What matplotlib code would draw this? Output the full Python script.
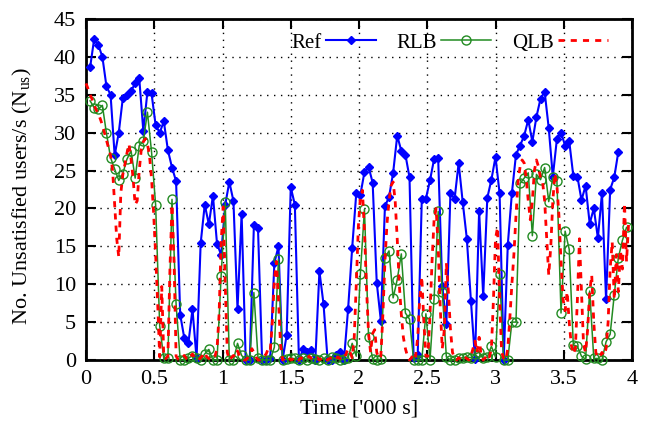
import numpy as np
import matplotlib
matplotlib.use('Agg')
import matplotlib.pyplot as plt

# Sample interval (thousand seconds)
dt_ref = 0.03
dt_qlb = 0.015

# Ref: users/s, one sample every 30 s, starting at 30 s
ref = [38.6, 42.4, 41.6, 40.0, 36.1, 35.0, 27.0, 30.0, 34.6, 35.0,
       35.5, 36.5, 37.2, 30.2, 35.4, 35.2, 31.0, 30.0, 31.5, 27.7,
       25.4, 23.6, 6.0, 2.9, 2.2, 6.7, 0.2, 15.4, 20.5, 17.9,
       21.7, 15.3, 13.9, 20.5, 23.5, 21.0, 6.7, 19.3, 0.0, 0.0,
       17.8, 17.4, 0.0, 0.0, 0.3, 12.8, 15.0, 0.0, 3.3, 22.8,
       20.5, 0.0, 1.4, 1.0, 1.3, 0.0, 11.7, 7.4, 0.0, 0.0,
       0.7, 1.0, 0.0, 6.7, 14.8, 22.0, 21.8, 24.8, 25.5, 23.4,
       10.2, 5.2, 20.3, 21.5, 24.7, 29.6, 27.6, 27.1, 24.1, 0.3,
       0.6, 21.2, 21.3, 23.7, 26.5, 26.6, 9.8, 4.7, 22.1, 21.2,
       26.0, 20.8, 16.0, 7.8, 0.1, 19.7, 8.4, 21.4, 23.8, 26.8,
       22.0, 0.0, 15.2, 22.0, 27.1, 28.3, 29.6, 31.7, 28.8, 32.1,
       34.5, 35.4, 30.6, 24.2, 29.2, 30.0, 28.3, 28.9, 24.3, 24.2,
       21.1, 23.0, 18.0, 20.0, 16.1, 22.0, 8.0, 22.5, 24.1, 27.5]

# RLB: same sampling as Ref
rlb = [34.2, 33.3, 33.1, 33.6, 29.9, 26.7, 25.2, 23.7, 24.6, 26.5,
       27.6, 24.0, 28.3, 28.9, 32.7, 27.5, 20.5, 4.5, 0.2, 0.3,
       21.2, 7.4, 0.0, 0.0, 0.3, 0.5, 0.3, 0.0, 0.8, 1.4,
       0.0, 0.0, 11.1, 20.8, 0.0, 0.0, 2.2, 0.6, 0.0, 0.0,
       8.9, 0.3, 0.0, 0.0, 0.0, 1.7, 13.3, 0.0, 0.1, 0.2,
       0.2, 0.0, 0.3, 0.0, 0.2, 0.1, 0.0, 0.2, 0.0, 0.4,
       0.2, 0.0, 0.1, 0.3, 2.2, 0.5, 11.4, 19.9, 3.1, 0.1,
       0.0, 0.1, 13.5, 14.4, 8.2, 10.6, 14.0, 6.2, 5.4, 0.0,
       0.0, 0.0, 6.1, 0.0, 8.1, 19.6, 9.0, 0.4, 0.0, 0.0,
       0.2, 0.3, 0.4, 0.3, 0.8, 1.0, 0.2, 0.4, 1.8, 0.4,
       11.4, 0.0, 0.0, 5.0, 5.0, 23.3, 24.0, 24.7, 16.4, 24.5,
       23.8, 25.4, 20.9, 24.1, 23.6, 6.2, 17.0, 14.6, 2.0, 1.8,
       0.5, 0.1, 9.1, 0.2, 0.2, 0.0, 2.4, 3.4, 8.6, 13.5,
       15.8, 17.5]

# QLB: one sample every 15 s, starting at 0
qlb = [36.5, 35.8, 35.0, 34.4, 33.6, 33.0, 32.5, 31.8, 31.0, 30.0,
       29.0, 28.0, 27.0, 25.0, 20.5, 16.0, 13.6, 22.0, 24.5, 25.8,
       27.3, 28.5, 26.5, 24.0, 20.5, 21.0, 25.0, 27.8, 28.8, 29.2,
       28.5, 27.0, 24.0, 19.5, 14.0, 7.5, 0.4, 9.7, 0.3, 0.2,
       0.5, 12.0, 20.5, 13.0, 0.5, 0.1, 0.0, 0.3, 0.6, 0.2,
       0.0, 0.4, 0.8, 0.3, 0.1, 0.0, 0.3, 0.6, 1.0, 0.4,
       0.2, 0.0, 0.2, 0.5, 1.5, 6.0, 15.5, 20.2, 10.0, 1.0,
       0.0, 0.3, 0.6, 0.4, 1.2, 0.5, 0.2, 0.0, 0.0, 0.3,
       0.8, 1.5, 1.0, 0.4, 0.0, 0.0, 0.2, 0.5, 0.8, 1.5,
       1.2, 5.0, 10.5, 13.0, 8.0, 2.0, 0.0, 0.2, 0.5, 0.3,
       0.0, 0.1, 0.4, 0.2, 0.0, 0.3, 0.1, 0.0, 0.2, 0.5,
       0.2, 0.0, 0.1, 0.3, 0.0, 0.2, 0.4, 0.1, 0.0, 0.2,
       0.3, 0.0, 0.1, 0.4, 0.2, 0.0, 0.3, 0.8, 1.5, 1.0,
       0.3, 3.0, 10.0, 17.5, 21.5, 22.4, 17.0, 9.5, 3.5, 1.0,
       3.5, 4.0, 1.0, 0.2, 0.5, 6.0, 13.0, 18.0, 21.0, 23.0,
       23.5, 21.0, 16.0, 10.0, 6.0, 3.0, 1.5, 0.5, 0.0, 0.3,
       1.0, 0.5, 3.0, 8.0, 11.0, 5.0, 0.5, 0.5, 6.0, 13.0,
       18.5, 20.0, 15.0, 7.0, 1.5, 4.0, 12.8, 9.0, 4.0, 1.0,
       0.2, 0.0, 0.3, 0.1, 0.0, 0.4, 0.2, 0.0, 0.5, 1.5,
       2.5, 1.0, 3.0, 0.5, 0.0, 0.3, 0.8, 0.4, 1.5, 8.0,
       16.0, 17.5, 8.0, 1.0, 0.2, 0.0, 1.5, 5.5, 10.0, 14.0,
       19.0, 23.5, 25.5, 26.4, 26.0, 24.0, 21.0, 18.5, 21.0, 25.0,
       26.4, 25.5, 24.0, 23.5, 21.0, 16.0, 11.2, 15.0, 21.0, 24.6,
       23.0, 19.0, 13.0, 8.0, 6.5, 9.0, 5.0, 2.0, 0.8, 1.5,
       8.0, 16.0, 9.0, 2.0, 1.0, 4.0, 9.0, 11.2, 5.0, 1.0,
       0.3, 0.5, 1.0, 0.6, 1.5, 5.0, 12.0, 15.6, 8.0, 13.9,
       9.0, 14.5, 12.0, 20.7, 13.0, 18.0]

t_ref = np.arange(1, len(ref) + 1) * dt_ref
t_rlb = np.arange(1, len(rlb) + 1) * dt_ref
t_qlb = np.arange(len(qlb)) * dt_qlb

plt.rcParams['font.family'] = 'Liberation Serif'
plt.rcParams['mathtext.fontset'] = 'custom'
plt.rcParams['mathtext.rm'] = 'Liberation Serif'
plt.rcParams['font.size'] = 16

fig = plt.figure(figsize=(6.52, 4.26), dpi=100)
ax = fig.add_axes([86 / 652, 1 - 360 / 426, 546 / 652, 341 / 426])

ax.plot(t_ref, ref, color='#0000ff', lw=1.5, marker='D', ms=4,
        label='Ref', clip_on=False, zorder=3)
ax.plot(t_rlb, rlb, color='#228b22', lw=1.1, marker='o', ms=6.5,
        mfc='none', mew=1.0, label='RLB', clip_on=False, zorder=4)
ax.plot(t_qlb, qlb, color='#ff0000', lw=2.0, dashes=(2.2, 2.2),
        label='QLB', clip_on=False, zorder=5)

ax.set_xlim(0, 4)
ax.set_ylim(0, 45)
ax.set_xticks(np.arange(0, 4.01, 0.5))
ax.set_xticklabels(['0', '0.5', '1', '1.5', '2', '2.5', '3', '3.5', '4'])
ax.set_yticks(np.arange(0, 46, 5))

ax.grid(True, color='black', linestyle=(0, (1, 4)), linewidth=1.0)
ax.set_axisbelow(True)
ax.tick_params(direction='in', length=7, width=1.5, top=True, right=True,
               pad=7)
for s in ax.spines.values():
    s.set_linewidth(2)

ax.set_xlabel("Time ['000 s]")
ax.xaxis.set_label_coords(0.5, -0.115)
ax.set_ylabel(r'No. Unsatisfied users/s (N$_{\mathrm{us}}$)')
ax.yaxis.set_label_coords(-0.095, 0.48)

ax.legend(ncol=3, loc='center right', bbox_to_anchor=(0.956, 0.93),
          frameon=False, markerfirst=False, handlelength=2.4,
          handletextpad=0.2, columnspacing=1.0, borderpad=0,
          borderaxespad=0, fontsize=15)

fig.savefig('out.png', dpi=100)
